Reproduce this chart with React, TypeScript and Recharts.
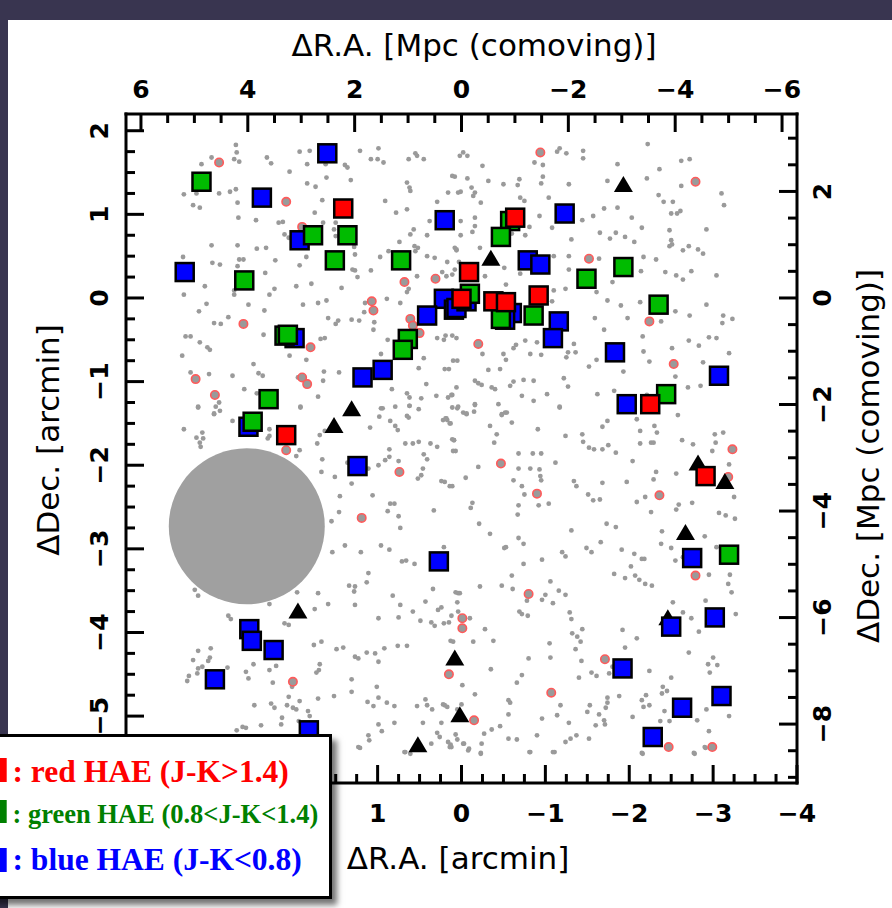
import { ScatterChart, Scatter, XAxis, YAxis, ReferenceDot } from 'recharts'

type Pt = [number, number]

// HAE members, [ΔR.A., ΔDec.] in arcmin
const redHAE: Pt[] = [
  [1.41, 1.07], [2.09, -1.64], [-0.64, 0.96], [-0.09, 0.31], [-0.92, 0.03], [0.0, -0.01],
  [-0.38, -0.04], [-0.53, -0.05], [-2.25, -1.27], [-2.91, -2.13],
]

const greenHAE: Pt[] = [
  [3.1, 1.39], [1.77, 0.75], [1.36, 0.75], [1.51, 0.45], [0.72, 0.45], [2.59, 0.21], [2.11, -0.45],
  [2.07, -0.44], [0.64, -0.49], [0.7, -0.62], [2.3, -1.21], [2.49, -1.48], [-0.58, 0.92], [-0.47, 0.73],
  [-1.93, 0.37], [-1.49, 0.23], [-0.1, 0.05], [-0.47, -0.25], [-0.86, -0.21], [-2.35, -0.08],
  [-2.44, -1.15], [-3.19, -3.07],
]

const blueHAE: Pt[] = [
  [1.6, 1.73], [2.38, 1.2], [0.2, 0.93], [1.93, 0.69], [3.3, 0.31], [0.21, -0.01], [0.09, -0.14],
  [0.41, -0.21], [1.99, -0.48], [0.94, -0.86], [1.18, -0.95], [2.54, -1.54], [-1.23, 1.01], [-0.79, 0.45],
  [-0.94, 0.4], [0.06, -0.12], [-0.06, -0.04], [-0.6, -0.18], [-0.52, -0.26], [-1.16, -0.28], [-1.09, -0.48],
  [-1.83, -0.65], [-3.07, -0.93], [-1.97, -1.27], [1.24, -2.01], [0.27, -3.15], [2.53, -3.96], [2.5, -4.1],
  [2.24, -4.21], [2.94, -4.56], [1.82, -5.17], [-2.75, -3.11], [-3.02, -3.82], [-2.5, -3.93], [-1.92, -4.43],
  [-3.1, -4.76], [-2.63, -4.9], [-2.28, -5.25],
]

const triangles: Pt[] = [
  [-1.93, 1.35], [-0.35, 0.47], [1.31, -1.33], [1.52, -1.53], [-2.82, -1.98], [-3.14, -2.2],
  [-2.67, -2.81], [-2.46, -3.83], [1.95, -3.75], [0.08, -4.31], [0.02, -4.99], [0.52, -5.35],
]

const ringed: Pt[] = [
  [2.89, 1.62], [2.09, 1.15], [1.9, 0.85], [0.68, 0.19], [0.31, 0.23], [1.07, -0.04], [1.05, -0.15],
  [2.6, -0.31], [0.61, -0.25], [0.58, -0.33], [0.5, -0.42], [1.8, -0.59], [3.17, -0.97], [1.9, -0.95],
  [1.84, -1.03], [2.94, -1.16], [-0.94, 1.74], [-2.79, 1.39], [-1.52, 0.47], [-2.24, -0.28], [-0.2, -0.55],
  [-2.53, -0.79], [2.09, -1.82], [0.74, -2.08], [1.19, -2.63], [2.01, -4.59], [0.15, -4.5], [-0.01, -3.83],
  [-0.01, -3.95], [-3.23, -1.81], [-3.18, -2.14], [-0.47, -1.98], [-0.9, -2.34], [-2.36, -2.36],
  [-2.79, -3.32], [-0.8, -3.54], [-1.71, -4.32], [-1.07, -4.72], [-0.15, -5.05], [-2.47, -5.37], [-2.99, -5.37],
]

// field galaxies, by quadrant
const fieldNE: Pt[] = [
  [2.69, 1.83], [2.68, 1.74], [2.98, 1.68], [2.71, 1.66], [2.65, 1.63], [3.1, 1.6], [2.32, 1.68], [2.27, 1.61],
  [1.93, 1.75], [1.81, 1.76], [1.84, 1.6], [1.62, 1.6], [1.39, 1.59], [1.36, 1.56], [1.21, 1.76], [0.99, 1.79],
  [1.08, 1.66], [1.0, 1.66], [0.93, 1.62], [0.55, 1.73], [0.53, 1.7], [0.63, 1.66], [0.45, 1.66], [0.08, 1.45],
  [2.05, 1.51], [1.61, 1.44], [1.32, 1.41], [1.84, 1.37], [1.74, 1.33], [0.65, 1.38], [0.62, 1.32], [0.61, 1.28],
  [3.31, 1.24], [3.16, 1.25], [3.2, 1.11], [3.12, 1.08], [2.89, 1.25], [2.76, 1.27], [2.69, 1.3], [2.67, 1.14],
  [1.66, 1.17], [0.91, 1.16], [0.29, 1.15], [0.01, 1.27], [0.65, 1.06], [0.78, 1.02], [1.75, 1.02], [2.66, 0.96],
  [2.45, 0.93], [2.18, 0.9], [2.13, 0.91], [2.11, 0.76], [2.06, 0.72], [1.65, 0.9], [1.52, 0.82], [1.5, 0.9],
  [1.5, 0.74], [0.38, 0.92], [0.01, 0.92], [0.57, 0.82], [0.61, 0.76], [0.41, 0.75], [2.98, 0.63], [2.67, 0.63],
  [2.44, 0.59], [2.33, 0.6], [1.95, 0.61], [1.85, 0.49], [1.93, 0.39], [2.22, 0.45], [2.65, 0.46], [2.6, 0.46],
  [3.32, 0.49], [2.97, 0.42], [2.88, 0.4], [2.67, 0.38], [2.34, 0.3], [1.27, 0.52], [1.28, 0.61], [0.74, 0.67],
  [0.56, 0.62], [0.52, 0.6], [0.55, 0.56], [0.87, 0.56], [0.97, 0.49], [0.41, 0.5], [0.32, 0.48], [0.06, 0.58],
  [0.03, 0.43], [0.23, 0.31], [0.11, 0.28], [1.27, 0.33], [1.3, 0.34], [1.24, 0.25], [1.08, 0.33], [0.53, 0.26],
  [3.31, 0.04], [3.06, 0.14], [2.71, 0.04], [2.71, 0.09], [2.54, -0.08], [2.35, -0.15], [2.29, 0.04], [2.23, 0.11],
  [1.97, 0.14], [1.79, 0.17], [1.89, -0.08], [1.71, -0.06], [1.61, -0.03], [1.43, 0.12], [1.15, -0.06], [1.16, -0.17],
  [0.89, -0.01], [0.73, -0.06], [0.65, 0.07], [0.63, 0.11], [3.13, -0.16], [3.04, -0.07], [2.78, -0.23], [2.95, -0.3],
  [2.87, -0.31], [2.36, -0.44], [1.68, -0.49], [1.63, -0.48], [1.59, -0.24], [1.5, -0.31], [1.47, -0.27], [1.31, -0.26],
  [1.22, -0.27], [1.04, -0.29], [1.05, -0.38], [0.88, -0.5], [0.29, -0.48], [0.21, -0.5], [0.11, -0.45], [3.29, -0.46],
  [3.23, -0.46], [3.12, -0.53], [3.03, -0.59], [3.0, -0.62], [3.33, -0.69], [2.05, -0.69], [1.85, -0.74], [1.64, -0.88],
  [1.46, -0.89], [0.96, -0.67], [0.51, -0.84], [0.45, -0.72], [0.15, -0.85], [0.05, -0.75], [3.23, -0.89], [3.01, -0.91],
  [2.73, -0.93], [2.48, -0.79], [2.42, -0.9], [2.37, -0.93], [1.95, -0.95], [1.65, -0.99], [2.59, -1.09], [2.44, -1.14],
  [2.89, -1.25], [2.93, -1.3], [3.14, -1.31], [2.95, -1.39], [1.92, -1.31], [1.71, -1.18], [0.96, -1.32], [0.83, -1.09],
  [0.65, -1.14], [0.62, -1.19], [0.62, -1.29], [0.48, -1.2], [0.42, -1.03], [0.3, -1.17], [0.11, -1.16], [0.11, -1.31],
  [0.63, -1.43], [0.17, -1.46],
]

const fieldNW: Pt[] = [
  [0.02, 1.7], [-0.02, 1.74], [-0.07, 1.7], [-0.25, 1.58], [0.11, 1.46], [-0.07, 1.43], [-0.12, 1.32], [-0.16, 1.26],
  [-0.14, 1.22], [-0.32, 1.4], [-0.5, 1.36], [-0.69, 1.42], [-0.67, 1.35], [-0.87, 1.62], [-0.97, 1.59], [-0.97, 1.45],
  [-0.95, 1.37], [-1.14, 1.75], [-1.17, 1.79], [-1.25, 1.73], [-1.45, 1.76], [-1.45, 1.67], [-1.86, 1.6], [-2.22, 1.84],
  [-2.36, 1.54], [-2.72, 1.66], [-2.62, 1.64], [-1.74, 1.4], [-1.28, 1.36], [-2.21, 1.43], [-2.62, 1.34], [-0.7, 1.2],
  [-0.75, 1.16], [-1.04, 1.2], [-0.23, 1.14], [0.04, 1.26], [0.16, 1.26], [-1.7, 1.07], [-1.86, 1.08], [-2.03, 0.96],
  [-2.52, 1.15], [-2.41, 1.15], [-2.35, 1.23], [-2.61, 1.04], [-2.57, 1.01], [-2.5, 1.01], [-3.1, 1.25], [-3.13, 1.11],
  [-2.15, 0.84], [-1.84, 0.78], [-1.95, 0.73], [-1.77, 0.71], [-2.48, 0.81], [-2.5, 0.69], [-2.48, 0.62], [-2.51, 0.64],
  [-2.64, 0.57], [-2.71, 0.62], [-2.82, 0.58], [-2.88, 0.53], [-2.92, 0.82], [-2.06, 0.67], [-1.65, 0.78], [-1.44, 0.93],
  [-1.57, 0.98], [-1.31, 0.7], [-1.08, 0.84], [-1.28, 0.5], [-1.1, 0.5], [-0.93, 0.98], [-0.81, 0.85], [-0.76, 0.75],
  [-0.6, 0.77], [-0.16, 0.96], [-0.16, 0.86], [-0.13, 0.79], [0.01, 0.75], [0.08, 0.6], [0.06, 0.57], [-0.22, 0.6],
  [-0.51, 0.36], [-0.7, 0.29], [-0.53, 0.16], [-0.28, 0.26], [0.18, 0.26], [0.08, 0.34], [0.17, 0.43], [-1.28, 0.34],
  [-1.64, 0.47], [-2.17, 0.49], [-2.32, 0.46], [-2.14, 0.32], [-2.43, 0.31], [-2.56, 0.27], [-2.64, 0.22], [-2.74, 0.32],
  [-3.04, 0.27], [-1.8, 0.19], [-1.61, 0.07], [-1.24, 0.11], [-1.1, 0.09], [-1.08, -0.04], [-1.74, -0.03], [-1.9, -0.09],
  [-2.13, -0.05], [-1.98, -0.24], [-1.59, -0.24], [-1.7, -0.38], [-2.16, -0.46], [-2.17, -0.64], [-2.38, -0.28],
  [-2.55, -0.16], [-2.72, -0.21], [-2.92, -0.08], [-3.12, -0.21], [-3.11, -0.3], [-3.23, -0.25], [-3.04, -0.48],
  [-2.95, -0.47], [-2.71, -0.51], [-2.83, -0.57], [-2.51, -0.6], [-2.24, -0.76], [-2.55, -0.94], [-2.7, -1.07],
  [-2.85, -1.05], [-2.88, -0.77], [-3.19, -0.66], [-1.93, -0.88], [-1.61, -0.74], [-1.52, -0.82], [-1.34, -0.55],
  [-1.36, -0.65], [-1.27, -0.65], [-1.25, -0.71], [-1.22, -0.96], [-1.27, -1.06], [-0.95, -0.68], [-0.82, -0.67],
  [-0.65, -0.56], [-0.62, -0.6], [-0.76, -0.51], [-0.9, -0.53], [-0.5, -0.67], [-0.53, -0.74], [-0.46, -0.85],
  [-0.32, -0.86], [-0.25, -0.67], [0.06, -0.48], [0.19, -0.45], [0.1, -0.75], [0.2, -0.85], [-0.2, -1.02], [-0.16, -0.99],
  [-0.24, -1.04], [-0.36, -1.07], [-0.4, -1.09], [-0.58, -1.05], [-0.62, -1.0], [-0.74, -0.98], [-0.86, -0.99],
  [-1.02, -1.15], [-1.17, -1.31], [-0.86, -1.23], [-0.72, -1.17], [-0.44, -1.27], [-0.48, -1.39], [-0.52, -1.37],
  [-0.16, -1.28], [-0.02, -1.37], [-0.06, -1.39], [0.05, -1.32], [0.06, -1.07], [0.12, -1.16], [0.16, -1.19],
  [-1.62, -1.15], [-1.82, -1.11], [-2.06, -1.28], [-2.21, -1.16], [-2.58, -1.4],
]

const fieldSE: Pt[] = [
  [3.14, -1.3], [2.95, -1.38], [2.88, -1.35], [2.73, -1.47], [3.31, -1.57], [3.16, -1.67], [3.09, -1.61], [3.08, -1.68],
  [3.12, -1.73], [3.11, -1.78], [2.29, -1.57], [2.29, -1.65], [2.31, -1.68], [1.92, -1.3], [1.69, -1.64], [1.63, -1.59],
  [1.72, -1.74], [1.93, -1.82], [1.97, -1.89], [1.66, -1.93], [1.36, -1.97], [1.09, -1.55], [0.94, -1.32], [0.79, -1.3],
  [0.62, -1.29], [0.51, -1.33], [0.65, -1.41], [0.85, -1.47], [0.79, -1.53], [0.76, -1.58], [0.98, -1.42], [0.67, -1.74],
  [0.58, -1.74], [0.51, -1.72], [0.37, -1.74], [0.29, -1.78], [0.22, -1.46], [0.18, -1.44], [0.13, -1.5], [0.09, -1.7],
  [0.07, -1.83], [0.45, -1.87], [0.41, -1.93], [0.52, -2.16], [0.48, -2.12], [0.46, -2.04], [0.86, -1.81], [0.86, -1.9],
  [0.99, -2.0], [0.91, -1.94], [0.75, -1.95], [1.06, -2.36], [1.11, -2.04], [1.31, -2.22], [1.51, -2.14], [1.45, -2.37],
  [1.46, -2.56], [1.55, -2.67], [1.67, -2.08], [0.85, -2.46], [0.8, -2.46], [0.88, -2.55], [0.75, -2.61], [0.73, -2.75],
  [0.33, -2.54], [0.2, -2.2], [0.11, -2.25], [1.39, -2.96], [1.2, -3.04], [0.96, -2.96], [0.86, -3.01], [0.71, -3.15],
  [0.66, -3.14], [0.56, -3.18], [0.21, -2.98], [1.54, -3.04], [1.11, -3.29], [1.13, -3.4], [1.34, -3.44], [1.27, -3.45],
  [1.28, -3.51], [1.71, -3.53], [1.96, -3.52], [1.59, -3.66], [1.75, -3.72], [1.27, -3.67], [0.99, -3.83], [0.82, -3.56],
  [0.73, -3.67], [0.58, -3.75], [0.43, -3.63], [0.34, -3.48], [0.28, -3.73], [0.15, -3.88], [0.04, -3.53], [0.75, -3.82],
  [0.49, -3.86], [0.36, -3.88], [0.32, -3.92], [0.21, -3.89], [0.1, -4.11], [2.29, -3.66], [3.18, -3.49], [3.14, -3.56],
  [2.78, -3.8], [2.75, -3.84], [2.11, -3.89], [2.06, -3.91], [1.76, -4.15], [1.67, -4.11], [1.49, -4.2], [1.41, -4.18],
  [1.27, -4.29], [1.23, -4.31], [1.13, -4.24], [1.03, -4.25], [0.99, -4.35], [0.92, -4.19], [0.76, -4.16], [0.65, -4.16],
  [3.14, -4.22], [2.99, -4.19], [3.2, -4.33], [3.09, -4.41], [3.0, -4.3], [3.02, -4.34], [2.79, -4.42], [2.57, -4.47],
  [2.54, -4.55], [2.48, -4.38], [2.29, -4.45], [2.21, -4.4], [1.69, -4.38], [1.7, -4.45], [1.73, -4.48], [2.25, -4.6],
  [2.02, -4.65], [3.27, -4.58], [3.25, -4.52], [3.15, -4.49], [3.14, -4.43], [1.31, -4.56], [1.31, -4.71], [1.52, -4.76],
  [1.71, -4.79], [1.93, -4.82], [2.06, -4.77], [2.08, -4.87], [2.27, -4.85], [2.47, -4.87], [2.23, -4.9], [2.01, -4.9],
  [1.97, -4.92], [2.14, -5.02], [1.83, -4.94], [1.81, -5.0], [1.94, -5.06], [2.15, -5.1], [2.39, -5.11], [2.61, -5.13],
  [2.68, -5.17], [2.57, -5.14], [1.12, -4.83], [1.05, -4.88], [0.99, -4.78], [0.89, -4.84], [0.8, -4.88], [1.01, -4.65],
  [0.99, -5.1], [0.95, -5.18], [1.11, -5.23], [1.1, -5.29], [1.21, -5.38], [0.67, -5.43], [0.61, -5.45], [0.53, -4.88],
  [0.41, -4.87], [0.43, -4.8], [0.35, -4.92], [0.22, -4.86], [0.17, -4.89], [0.05, -4.92], [0.46, -5.08], [0.24, -5.08],
  [0.29, -5.2], [0.26, -5.25], [0.13, -5.34], [0.07, -5.22], [0.8, -5.08], [1.23, -5.37], [0.68, -5.43], [0.36, -5.33],
  [0.14, -5.37],
]

const fieldSW: Pt[] = [
  [0.04, -1.3], [-0.06, -1.38], [-0.16, -1.27], [-0.15, -1.36], [0.19, -1.44], [0.14, -1.5], [-0.34, -1.53], [-0.42, -1.63],
  [-0.39, -1.73], [-0.6, -1.49], [-0.48, -1.4], [-0.54, -1.37], [-1.17, -1.3], [-0.91, -1.57], [-1.24, -1.65], [-1.44, -1.63],
  [-1.45, -1.72], [-1.52, -1.79], [-1.58, -1.81], [-1.68, -1.81], [-1.75, -1.76], [-1.84, -1.85], [-1.68, -1.54],
  [-1.74, -1.47], [-2.09, -1.45], [-2.3, -1.53], [-2.33, -1.61], [-2.13, -1.59], [-2.13, -1.74], [-2.26, -1.73],
  [-2.29, -1.73], [-2.04, -1.95], [-2.63, -1.7], [-2.76, -1.75], [-2.99, -1.83], [-3.03, -1.73], [-3.02, -1.63],
  [-3.12, -1.61], [-2.56, -2.1], [-2.32, -2.08], [-2.29, -2.17], [-2.19, -2.38], [-2.09, -2.44], [-2.26, -2.56],
  [-2.59, -2.47], [-2.56, -2.53], [-2.75, -2.45], [-3.07, -2.57], [-3.15, -2.6], [-3.19, -1.99], [-3.25, -2.38],
  [-3.26, -2.64], [0.11, -1.69], [0.09, -1.7], [0.1, -1.83], [-0.2, -2.02], [-0.05, -2.15], [0.14, -2.25], [0.24, -2.19],
  [-0.68, -1.86], [-0.85, -1.86], [-0.95, -1.86], [-0.68, -2.04], [-0.82, -2.04], [-0.93, -2.05], [-0.94, -2.13],
  [-0.95, -2.18], [-0.62, -2.18], [-0.72, -2.25], [-0.75, -2.35], [-0.68, -2.48], [-0.67, -2.59], [-0.92, -2.48],
  [-1.04, -2.46], [-1.12, -1.97], [-1.34, -2.19], [-1.37, -2.25], [-1.68, -2.21], [-1.51, -2.35], [-1.57, -2.42],
  [-1.65, -2.41], [-1.97, -2.2], [-0.13, -2.45], [-0.11, -2.51], [-0.21, -2.7], [-0.34, -2.82], [-0.53, -2.98],
  [-0.68, -2.87], [-0.74, -2.94], [-0.74, -3.18], [-0.96, -3.13], [-1.2, -3.04], [-1.24, -3.09], [-1.31, -2.78],
  [-1.49, -2.99], [-1.55, -3.04], [-1.66, -2.92], [-1.73, -2.7], [-1.84, -2.74], [-1.91, -3.01], [-2.06, -3.06],
  [-2.15, -3.12], [-2.18, -3.12], [-2.02, -3.21], [-1.82, -3.3], [-1.95, -3.35], [-2.07, -3.32], [-2.12, -3.37],
  [-2.19, -3.42], [-2.27, -3.44], [-2.39, -2.79], [-2.38, -2.94], [-2.5, -2.99], [-2.55, -3.14], [-2.64, -3.1],
  [-2.9, -2.85], [-3.04, -2.98], [-3.18, -3.01], [-2.95, -3.31], [-3.2, -3.31], [-3.18, -3.42], [-3.22, -3.52],
  [-3.27, -3.78], [-2.91, -3.62], [-2.64, -3.76], [-2.74, -3.83], [-2.83, -3.99], [-2.52, -3.64], [-2.71, -4.24],
  [-2.94, -4.38], [-3.05, -4.39], [-2.96, -4.48], [-3.0, -4.3], [-2.4, -4.65], [-2.45, -4.7], [-2.39, -4.73],
  [-2.5, -4.54], [-2.24, -4.46], [-2.09, -4.07], [-1.95, -4.18], [-1.92, -3.97], [-2.2, -4.75], [-2.15, -4.81],
  [-2.17, -4.89], [-2.24, -4.87], [-2.04, -5.01], [-2.37, -5.06], [-2.42, -4.94], [-2.48, -5.06], [-2.36, -5.22],
  [-2.16, -5.45], [-2.78, -5.45], [-2.91, -5.38], [-2.81, -5.05], [-2.92, -4.92], [-3.19, -5.0], [-2.95, -5.18],
  [-1.74, -4.78], [-1.72, -4.9], [-1.74, -4.84], [-1.7, -5.05], [-1.71, -5.1], [-1.53, -4.87], [-1.5, -4.95],
  [-1.64, -4.98], [-1.52, -5.27], [-1.6, -5.11], [-1.37, -5.23], [-1.3, -5.27], [-1.24, -5.31], [-1.28, -5.08],
  [-1.11, -5.43], [-0.82, -5.43], [-0.9, -5.23], [-0.66, -5.28], [-0.56, -5.27], [-0.46, -5.12], [-0.36, -5.16],
  [-0.27, -5.21], [-0.24, -5.33], [-0.23, -5.45], [-0.08, -5.41], [-0.02, -5.33], [0.05, -5.28], [0.12, -5.37],
  [0.16, -5.31], [-0.16, -4.74], [0.0, -4.86], [0.2, -4.87], [-0.01, -4.63], [-0.35, -4.44], [-0.66, -4.6],
  [-0.72, -4.51], [-0.8, -4.31], [-1.06, -4.3], [-0.56, -4.81], [-0.58, -4.84], [-0.56, -4.98], [-0.96, -5.03],
  [-1.14, -4.99], [-1.18, -4.87], [-1.4, -4.54], [-1.43, -4.34], [-1.55, -4.48], [-1.61, -4.52], [-1.76, -4.49],
  [-1.8, -4.41], [-1.88, -4.76], [-1.42, -4.11], [-1.36, -4.2], [-1.32, -4.01], [-1.38, -4.05], [-1.44, -3.96],
  [-1.29, -3.76], [-1.31, -3.84], [-0.96, -3.61], [-1.09, -3.65], [-0.78, -3.62], [-0.79, -3.8], [-0.72, -3.78],
  [-0.69, -3.75], [-0.61, -3.48], [-0.28, -3.96], [-0.38, -4.1], [-0.14, -4.11], [0.05, -3.64], [0.02, -3.53],
  [0.07, -3.52], [-0.22, -3.45], [0.13, -4.1], [0.04, -3.75], [0.12, -3.8], [0.24, -3.7], [-0.1, -3.83], [-1.05, -4.13],
  [-1.06, -3.39], [-1.16, -3.5], [-1.24, -3.55], [-1.0, -3.55], [-0.48, -3.44], [-0.6, -3.32], [-0.51, -2.99],
  [-0.03, -5.33], [-0.09, -5.39], [-0.23, -5.44], [-0.81, -5.43], [-1.09, -5.43], [-2.15, -5.44], [-2.77, -5.44],
  [-2.9, -5.37],
]

// masked bright star
const maskCenter: Pt = [2.56, -2.73]
const maskRadius = 0.93

const ARCMIN_TO_MPC = 1.57
const RA_DOMAIN: Pt = [-4, 4]
const DEC_DOMAIN: Pt = [-5.8, 2.2]

const PLOT_W = 671
const PLOT_H = 669

const range = (from: number, to: number, step: number) => {
  const out: number[] = []
  for (let v = from; v <= to + 1e-9; v += step) out.push(Math.round(v * 100) / 100)
  return out
}

const raTicks = range(-4, 4, 0.25)
const decTicks = range(-5.75, 2, 0.25)
const mpcRaTicks = range(-6, 6, 0.5)
const mpcDecTicks = range(-9, 3, 0.5)

// bottom tick labels hidden behind the legend box
const raHiddenLabels = [2, 3, 4]

const rows = (pts: Pt[]) => pts.map(([ra, dec]) => ({ ra, dec }))
const fmt = (v: number) => (v < 0 ? `\u2212${-v}` : `${v}`)

const tickFont = { fontFamily: '"DejaVu Sans", sans-serif', fontSize: 25, fontWeight: 700, fill: '#000' }
const titleFont = { fontFamily: '"DejaVu Sans", sans-serif', fontSize: 31, fill: '#000' }

const makeTick = (side: 'top' | 'bottom' | 'left' | 'right', isMajor: (v: number) => boolean) =>
  (props: any) => {
    const { x, y, payload } = props
    const v = payload.value
    const major = isMajor(v)
    const len = major ? 18 : 9
    const showLabel = major && !(side === 'bottom' && raHiddenLabels.includes(v))
    let line
    let label = null
    if (side === 'bottom') {
      line = <line x1={x} y1={y} x2={x} y2={y - len} />
      if (showLabel) label = <text x={x} y={y + 30} textAnchor="middle" dominantBaseline="central" style={tickFont}>{fmt(v)}</text>
    } else if (side === 'top') {
      line = <line x1={x} y1={y} x2={x} y2={y + len} />
      if (showLabel) label = <text x={x} y={y - 25} textAnchor="middle" dominantBaseline="central" style={tickFont}>{fmt(v)}</text>
    } else if (side === 'left') {
      line = <line x1={x} y1={y} x2={x + len} y2={y} />
      if (showLabel) label = <text x={x - 26} y={y} transform={`rotate(-90 ${x - 26} ${y})`} textAnchor="middle" dominantBaseline="central" style={tickFont}>{fmt(v)}</text>
    } else {
      line = <line x1={x} y1={y} x2={x - len} y2={y} />
      if (showLabel) label = <text x={x + 26} y={y} transform={`rotate(-90 ${x + 26} ${y})`} textAnchor="middle" dominantBaseline="central" style={tickFont}>{fmt(v)}</text>
    }
    return (
      <g stroke="#000" strokeWidth={3}>
        {line}
        <g stroke="none">{label}</g>
      </g>
    )
  }

const isInt = (v: number) => Math.abs(v - Math.round(v)) < 1e-6
const isEven = (v: number) => isInt(v) && Math.round(v) % 2 === 0

const title = (text: string, x: number, y: number, rotate = false) => () => (
  <text x={x} y={y} transform={rotate ? `rotate(-90 ${x} ${y})` : undefined} textAnchor="middle" dominantBaseline="central" style={titleFont}>
    {text}
  </text>
)

const dot = (p: any) => <circle cx={p.cx} cy={p.cy} r={2.4} fill="#9a9a9a" />
const ring = (p: any) => <circle cx={p.cx} cy={p.cy} r={4.2} fill="#9a9a9a" stroke="#ff5a5a" strokeWidth={1.6} />
const tri = (p: any) => (
  <polygon points={`${p.cx},${p.cy - 9} ${p.cx - 9.5},${p.cy + 7} ${p.cx + 9.5},${p.cy + 7}`} fill="#000" />
)
const square = (fill: string) => (p: any) => (
  <rect x={p.cx - 9} y={p.cy - 9} width={18} height={18} fill={fill} stroke="#000" strokeWidth={2.5} />
)

const axisLine = { stroke: '#000', strokeWidth: 3, strokeLinecap: 'square' as const }

function LegendBox() {
  const font = { fontFamily: '"Liberation Serif", "DejaVu Serif", serif', fontWeight: 700 }
  return (
    <div
      style={{
        position: 'absolute', left: -20, top: 734, width: 346, height: 159,
        border: '3px solid #000', background: '#fff', boxShadow: '5px 6px 6px rgba(0,0,0,0.55)',
      }}
    >
      <svg width={346} height={159} style={{ display: 'block' }}>
        <rect x={0} y={21} width={23.7} height={24} fill="#ff0000" />
        <rect x={0} y={63} width={23.7} height={23} fill="#008000" />
        <rect x={0} y={111} width={23.7} height={24} fill="#0000ff" />
        <text x={29.5} y={44.7} fill="#ff0000" style={{ ...font, fontSize: 31.5 }}>: red HAE (J-K&gt;1.4)</text>
        <text x={29.5} y={86.3} fill="#008000" style={{ ...font, fontSize: 26.5 }}>: green HAE (0.8&lt;J-K&lt;1.4)</text>
        <text x={29.5} y={133} fill="#0000ff" style={{ ...font, fontSize: 31.5 }}>: blue HAE (J-K&lt;0.8)</text>
      </svg>
    </div>
  )
}

export default function App() {
  const pxPerArcmin = PLOT_W / (RA_DOMAIN[1] - RA_DOMAIN[0])
  return (
    <div style={{ position: 'absolute', left: 0, top: 0, width: 892, height: 908, overflow: 'hidden', background: '#393550' }}>
      <div style={{ position: 'absolute', left: 8, top: 20, right: 0, bottom: 0, background: '#fff' }} />
      <div style={{ position: 'absolute', left: 0, top: 0 }}>
        <ScatterChart width={892} height={908} margin={{ top: 0, right: 0, bottom: 0, left: 0 }}>
          <XAxis
            xAxisId="ra" dataKey="ra" type="number" orientation="bottom" reversed height={908 - 114 - PLOT_H}
            domain={RA_DOMAIN} allowDataOverflow ticks={raTicks} interval={0} tickSize={0} tickMargin={0}
            tickLine={false} axisLine={axisLine} tick={makeTick('bottom', isInt)}
            label={title('ΔR.A. [arcmin]', 458, 858)}
          />
          <XAxis
            xAxisId="mpcRa" dataKey="mpcRa" type="number" orientation="top" reversed height={114}
            domain={[RA_DOMAIN[0] * ARCMIN_TO_MPC, RA_DOMAIN[1] * ARCMIN_TO_MPC]} allowDataOverflow
            ticks={mpcRaTicks} interval={0} tickSize={0} tickMargin={0}
            tickLine={false} axisLine={axisLine} tick={makeTick('top', isEven)}
            label={title('ΔR.A. [Mpc (comoving)]', 474, 45)}
          />
          <YAxis
            yAxisId="dec" dataKey="dec" type="number" orientation="left" width={126}
            domain={DEC_DOMAIN} allowDataOverflow ticks={decTicks} interval={0} tickSize={0} tickMargin={0}
            tickLine={false} axisLine={axisLine} tick={makeTick('left', isInt)}
            label={title('ΔDec. [arcmin]', 48, 440, true)}
          />
          <YAxis
            yAxisId="mpcDec" type="number" orientation="right" width={892 - 126 - PLOT_W}
            domain={[DEC_DOMAIN[0] * ARCMIN_TO_MPC, DEC_DOMAIN[1] * ARCMIN_TO_MPC]} allowDataOverflow
            ticks={mpcDecTicks} interval={0} tickSize={0} tickMargin={0}
            tickLine={false} axisLine={axisLine} tick={makeTick('right', isEven)}
            label={title('ΔDec. [Mpc (comoving)]', 868, 456, true)}
          />
          <Scatter xAxisId="mpcRa" yAxisId="mpcDec" data={[]} isAnimationActive={false} />
          <Scatter xAxisId="ra" yAxisId="dec" data={rows([...fieldNE, ...fieldNW, ...fieldSE, ...fieldSW])} shape={dot} isAnimationActive={false} />
          <Scatter xAxisId="ra" yAxisId="dec" data={rows(ringed)} shape={ring} isAnimationActive={false} />
          <ReferenceDot xAxisId="ra" yAxisId="dec" x={maskCenter[0]} y={maskCenter[1]} r={maskRadius * pxPerArcmin} fill="#a0a0a0" stroke="none" />
          <Scatter xAxisId="ra" yAxisId="dec" data={rows(triangles)} shape={tri} isAnimationActive={false} />
          <Scatter xAxisId="ra" yAxisId="dec" data={rows(blueHAE)} shape={square('#0000ff')} isAnimationActive={false} />
          <Scatter xAxisId="ra" yAxisId="dec" data={rows(greenHAE)} shape={square('#00bb00')} isAnimationActive={false} />
          <Scatter xAxisId="ra" yAxisId="dec" data={rows(redHAE)} shape={square('#ff0000')} isAnimationActive={false} />
        </ScatterChart>
      </div>
      <LegendBox />
    </div>
  )
}
